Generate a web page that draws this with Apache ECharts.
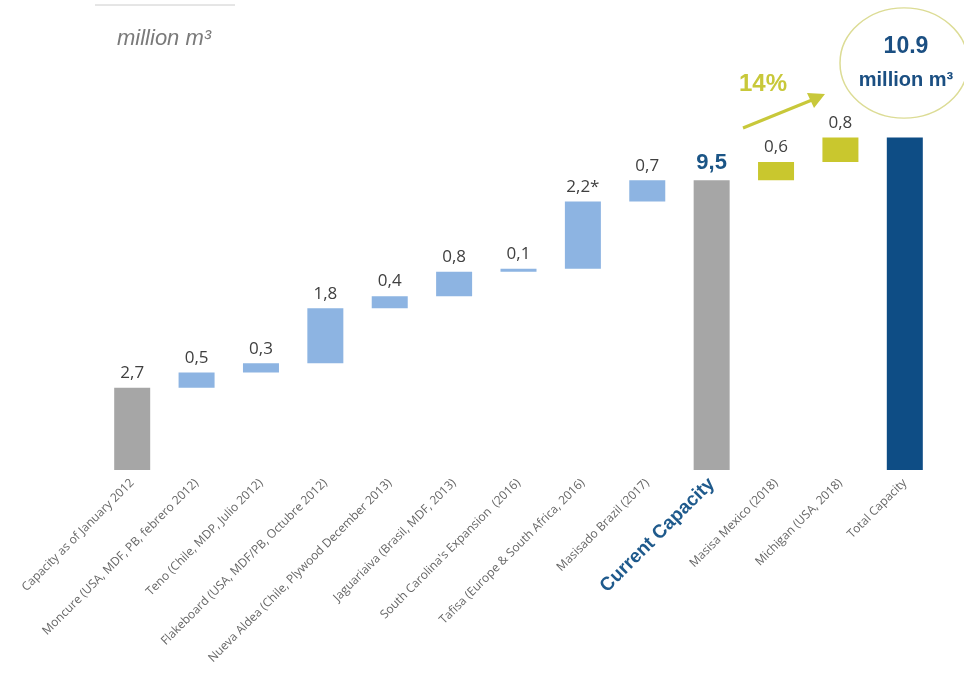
<!DOCTYPE html>
<html>
	<head>
		<meta charset="utf-8">
		<title></title>
		<script src="https://cdn.jsdelivr.net/npm/echarts@6/dist/echarts.min.js"></script>
	</head>
	<body style="margin:0;">
		<div id="my" style="width:964px;height:680px;"></div>

		<script>
			var categories = [
				'Capacity as of January 2012',
				'Moncure (USA, MDF, PB, febrero 2012)',
				'Teno (Chile, MDP, Julio 2012)',
				'Flakeboard (USA, MDF/PB, Octubre 2012)',
				'Nueva Aldea (Chile, Plywood December 2013)',
				'Jaguariaiva (Brasil, MDF, 2013)',
				"South Carolina's Expansion  (2016)",
				'Tafisa (Europe & South Africa, 2016)',
				'Masisado Brazil (2017)',
				'Current Capacity',
				'Masisa Mexico (2018)',
				'Michigan (USA, 2018)',
				'Total Capacity'
			];
			// amount of each bar (totals are full bars from zero)
			var amounts = [2.7, 0.5, 0.3, 1.8, 0.4, 0.8, 0.1, 2.2, 0.7, 9.5, 0.6, 0.8, 10.9];
			var isTotal = [true, false, false, false, false, false, false, false, false, true, false, false, true];
			var valueLabels = ['2,7', '0,5', '0,3', '1,8', '0,4', '0,8', '0,1', '2,2*', '0,7', '9,5', '0,6', '0,8', ''];
			var barColors = ['#a6a6a6', '#8db4e2', '#8db4e2', '#8db4e2', '#8db4e2', '#8db4e2', '#8db4e2', '#8db4e2', '#8db4e2',
				'#a6a6a6', '#c9c72e', '#c9c72e', '#0e4d85'];

			// invisible base under each increment
			var bases = [];
			var running = 0;
			for (var i = 0; i < amounts.length; i++) {
				if (isTotal[i]) {
					bases.push(0);
					running = amounts[i];
				} else {
					bases.push(running);
					running += amounts[i];
				}
			}

			var myChart = echarts.init(document.getElementById('my'));

			var axisData = categories.map(function (c, i) {
				if (c === 'Current Capacity') {
					return {value: c, textStyle: {color: '#1f5a8c', fontSize: 19, fontWeight: 'bold', fontFamily: 'Liberation Sans'}};
				}
				return c;
			});

			var shown = amounts.map(function (v, i) {
				var item = {value: v, itemStyle: {color: barColors[i]}};
				if (i === 9) {
					item.label = {color: '#1b5586', fontSize: 22, fontWeight: 'bold', fontFamily: 'Liberation Sans'};
				}
				return item;
			});

			var option = {
				animation: false,
				grid: {left: 100, right: 27, top: 104, bottom: 210},
				xAxis: {
					type: 'category',
					data: axisData,
					axisLine: {show: false},
					axisTick: {show: false},
					axisLabel: {
						interval: 0,
						rotate: 45,
						margin: 11,
						color: '#666666',
						fontSize: 12,
						fontFamily: 'Open Sans'
					}
				},
				yAxis: {
					type: 'value',
					min: 0,
					max: 12,
					show: false
				},
				series: [
					{
						type: 'bar',
						stack: 'w',
						data: bases,
						itemStyle: {color: 'transparent'},
						barWidth: 36,
						silent: true
					},
					{
						type: 'bar',
						stack: 'w',
						data: shown,
						barWidth: 36,
						label: {
							show: true,
							position: 'top',
							distance: 6,
							color: '#404040',
							fontSize: 17,
							fontFamily: 'Open Sans',
							formatter: function (p) {
								return valueLabels[p.dataIndex];
							}
						}
					}
				],
				graphic: [
					{type: 'line', shape: {x1: 95, y1: 5, x2: 235, y2: 5}, style: {stroke: '#cccccc', lineWidth: 1}},
					{type: 'text', left: 117, top: 28, style: {text: 'million m³', fill: '#7a7a7a', font: 'italic 22px "Liberation Sans"'}},
					{type: 'text', left: 739, top: 72, style: {text: '14%', fill: '#c8c83a', font: 'bold 24px "Liberation Sans"'}},
					{type: 'line', shape: {x1: 743, y1: 128, x2: 812, y2: 100}, style: {stroke: '#c8c83a', lineWidth: 3}},
					{type: 'polygon', shape: {points: [[825, 94], [807, 93], [814, 108]]}, style: {fill: '#c8c83a'}},
					{type: 'circle', x: 904, y: 63, scaleY: 0.86, shape: {cx: 0, cy: 0, r: 64}, style: {fill: 'none', stroke: '#dcdc95', lineWidth: 1.5}},
					{type: 'text', x: 906, y: 47, style: {text: '10.9', fill: '#1b4f82', font: 'bold 23px "Liberation Sans"', align: 'center', verticalAlign: 'middle'}},
					{type: 'text', x: 906, y: 80, style: {text: 'million m³', fill: '#1b4f82', font: 'bold 20px "Liberation Sans"', align: 'center', verticalAlign: 'middle'}}
				]
			};

			myChart.setOption(option);
		</script>
	</body>
</html>
